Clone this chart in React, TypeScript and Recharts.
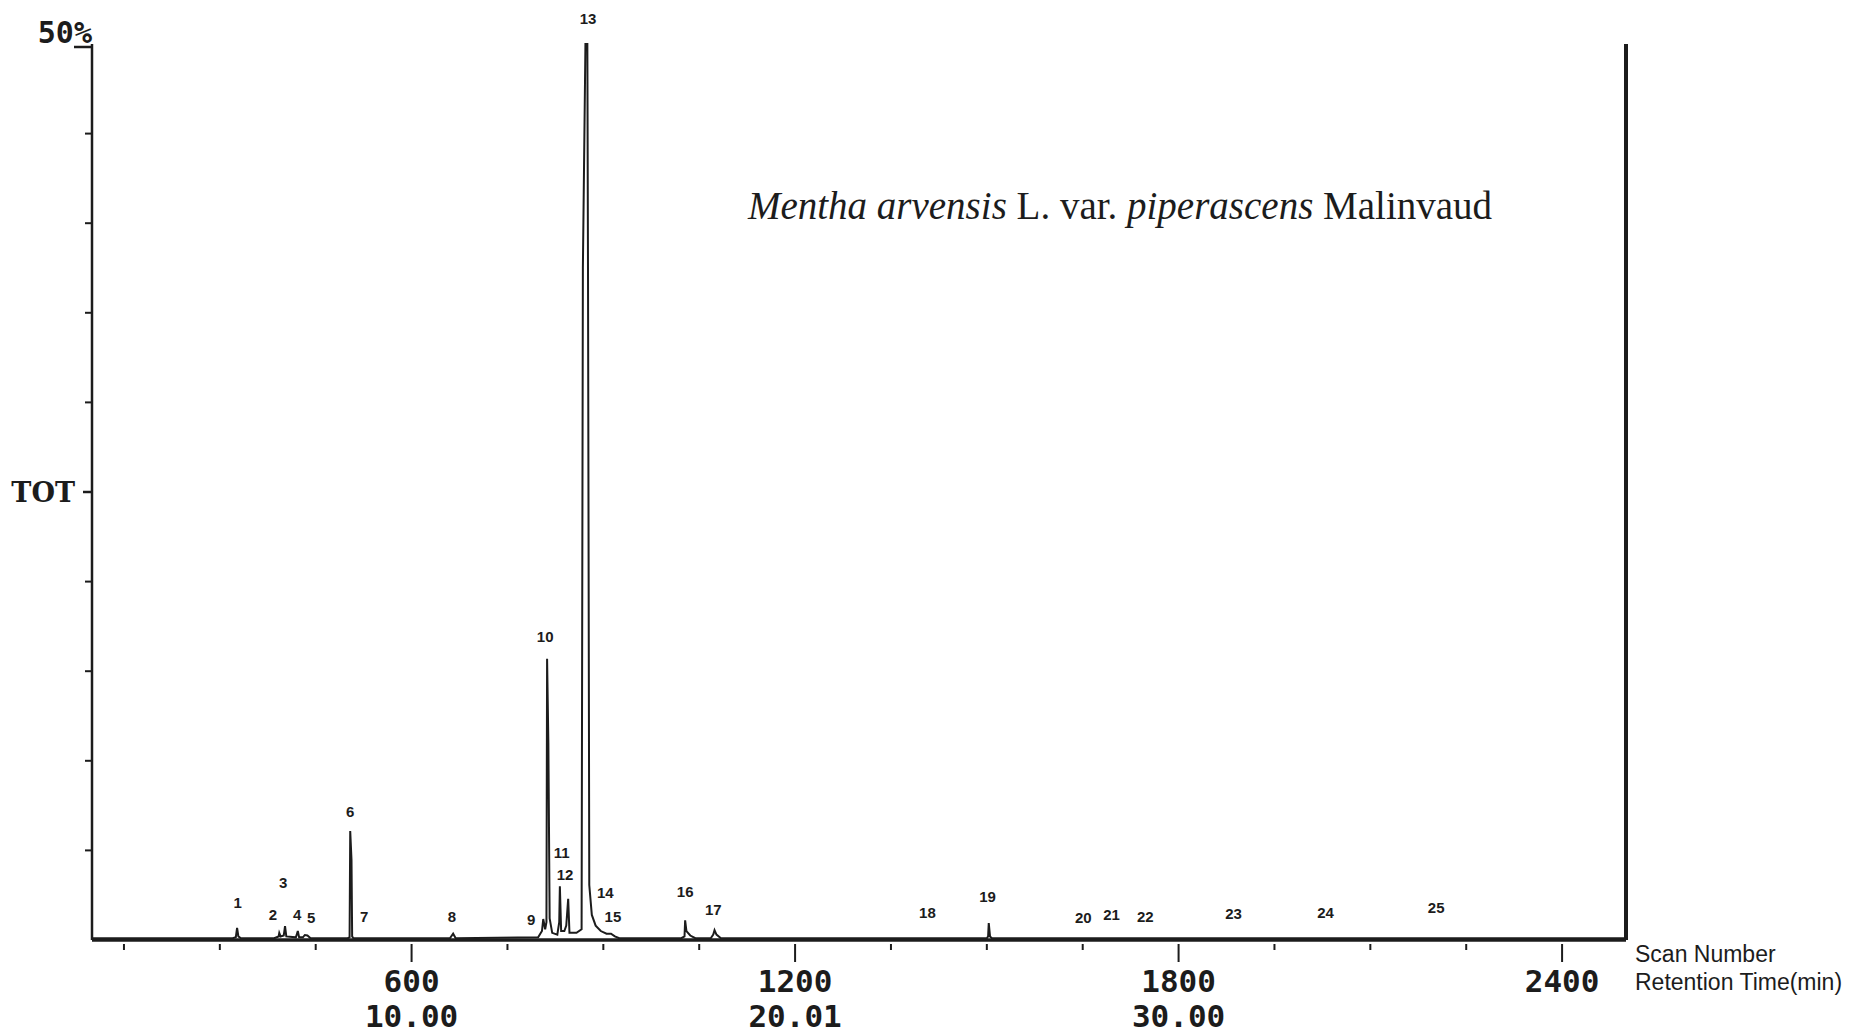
import React from 'react';
import {ComposedChart, Line, XAxis, YAxis, ReferenceDot} from 'recharts';

// total ion chromatogram (scan number vs % of full scale)
const traceScans = [
  100, 320, 325, 327, 329, 333, 385, 392, 393, 395, 400, 402, 404, 419, 422, 424,
  430, 433, 437, 442, 500, 503, 504, 506, 507, 509, 660, 665, 669, 798, 804, 806,
  809, 811, 812, 814, 816, 820, 828, 831, 832, 834, 839, 842, 845, 847, 858, 866,
  868, 872, 875, 876, 878, 882, 888, 896, 905, 912, 918, 925, 1022, 1027, 1028, 1030,
  1036, 1044, 1068, 1072, 1074, 1077, 1084, 1500, 1502, 1503, 1505, 1508, 2500,
];
const traceTic = [
  0.1, 0.1, 0.15, 0.67, 0.2, 0.1, 0.1, 0.2, 0.39, 0.2, 0.25, 0.78, 0.2, 0.15, 0.5, 0.15,
  0.15, 0.28, 0.25, 0.1, 0.1, 0.15, 6.08, 4.46, 0.2, 0.1, 0.1, 0.35, 0.1, 0.15, 0.5, 1.17,
  0.6, 1.0, 15.7, 11.0, 1.2, 0.4, 0.3, 1.0, 3.0, 0.5, 0.5, 0.8, 2.3, 0.4, 0.4, 0.6,
  37.5, 50, 50, 37.5, 3.07, 1.4, 0.8, 0.5, 0.35, 0.35, 0.2, 0.1, 0.1, 0.2, 1.1, 0.5,
  0.25, 0.1, 0.1, 0.3, 0.55, 0.3, 0.1, 0.1, 0.2, 0.95, 0.2, 0.1, 0.1,
];

// peak numbers and where they are printed
const peakIds = [
  '1', '2', '3', '4', '5', '6', '7', '8', '9', '10', '11', '12', '13',
  '14', '15', '16', '17', '18', '19', '20', '21', '22', '23', '24', '25',
];
const peakLabelScans = [
  328, 383, 399, 421, 443, 504, 526, 663, 787, 809, 835, 840, 876,
  903, 915, 1028, 1072, 1407, 1501, 1651, 1695, 1748, 1886, 2030, 2203,
];
const peakLabelHeights = [
  2.06, 1.4, 3.18, 1.4, 1.23, 7.14, 1.28, 1.28, 1.12, 16.9, 4.85, 3.63, 51.4,
  2.62, 1.28, 2.68, 1.67, 1.51, 2.4, 1.23, 1.4, 1.28, 1.45, 1.51, 1.79,
];

const scanTicks = [150, 300, 450, 600, 750, 900, 1050, 1200, 1350, 1500, 1650, 1800, 1950, 2100, 2250, 2400];
const majorScans = [600, 1200, 1800, 2400];
const retentionTimes = ['10.00', '20.01', '30.00', ''];
const ticTicks = [0, 5, 10, 15, 20, 25, 30, 35, 40, 45, 50];

const trace = traceScans.map((s, i) => ({scan: s, tic: traceTic[i]}));

const W = 1834;
const H = 1026;
const PLOT_LEFT = 84;
const PLOT_RIGHT = 1618;
const BASE_Y = 932;
const INK = '#1c1c1c';
const monoFont = '"DejaVu Sans Mono", monospace';

const ScanTick = (props: any) => {
  const {x, payload} = props;
  const v = payload.value;
  const idx = majorScans.indexOf(v);
  if (idx < 0) {
    return <line x1={x} x2={x} y1={BASE_Y + 4} y2={BASE_Y + 10} stroke={INK} strokeWidth={2} />;
  }
  return (
    <g>
      <line x1={x} x2={x} y1={BASE_Y + 4} y2={BASE_Y + 22} stroke={INK} strokeWidth={2} />
      <text x={x} y={BASE_Y + 52} textAnchor="middle" fontFamily={monoFont} fontWeight={700} fontSize={31} fill={INK}>
        {v}
      </text>
      <text x={x} y={BASE_Y + 87} textAnchor="middle" fontFamily={monoFont} fontWeight={700} fontSize={31} fill={INK}>
        {retentionTimes[idx]}
      </text>
    </g>
  );
};

const LeftTick = (props: any) => {
  const {y, payload} = props;
  const v = payload.value;
  if (v === 0) return null;
  if (v === 50) {
    return (
      <g>
        <line x1={PLOT_LEFT - 18} x2={PLOT_LEFT} y1={y + 3} y2={y + 3} stroke={INK} strokeWidth={2.5} />
        <text x={PLOT_LEFT} y={y - 1} textAnchor="end" fontFamily={monoFont} fontWeight={700} fontSize={30} fill={INK}>
          50%
        </text>
      </g>
    );
  }
  if (v === 25) {
    return (
      <g>
        <line x1={PLOT_LEFT - 9} x2={PLOT_LEFT} y1={y} y2={y} stroke={INK} strokeWidth={2.5} />
        <text x={PLOT_LEFT - 17} y={y + 10} textAnchor="end" fontFamily='"DejaVu Serif", serif' fontWeight={700} fontSize={27} fill={INK}>
          TOT
        </text>
      </g>
    );
  }
  return <line x1={PLOT_LEFT - 7} x2={PLOT_LEFT - 1} y1={y} y2={y} stroke={INK} strokeWidth={2} />;
};

const RightTick = (props: any) => {
  const {y, payload} = props;
  const v = payload.value;
  if (v === 0) return null;
  const len = v === 50 || v === 25 ? 20 : 10;
  return <line x1={PLOT_RIGHT} x2={PLOT_RIGHT + len} y1={y} y2={y} stroke={INK} strokeWidth={2} />;
};

export default function App() {
  return (
    <div style={{position: 'fixed', left: 8, top: 8, width: W, height: H, background: '#fff'}}>
      <ComposedChart width={W} height={H} margin={{top: 36, right: 206, left: 4, bottom: 0}}>
        <XAxis
          xAxisId="scan"
          dataKey="scan"
          type="number"
          domain={[100, 2500]}
          ticks={scanTicks}
          interval={0}
          tick={<ScanTick />}
          tickLine={false}
          axisLine={{stroke: INK, strokeWidth: 3.5}}
          height={94}
        />
        <YAxis
          yAxisId="left"
          type="number"
          domain={[0, 50]}
          ticks={ticTicks}
          interval={0}
          tick={<LeftTick />}
          tickLine={false}
          axisLine={{stroke: INK, strokeWidth: 2.5}}
          width={80}
        />
        <YAxis
          yAxisId="right"
          orientation="right"
          type="number"
          domain={[0, 50]}
          ticks={ticTicks}
          interval={0}
          tick={<RightTick />}
          tickLine={false}
          axisLine={{stroke: INK, strokeWidth: 4}}
          width={10}
        />
        <Line
          xAxisId="scan"
          yAxisId="left"
          data={trace}
          dataKey="tic"
          type="linear"
          stroke={INK}
          strokeWidth={2}
          dot={false}
          isAnimationActive={false}
        />
        {peakIds.map((id, i) => (
          <ReferenceDot
            key={id}
            xAxisId="scan"
            yAxisId="left"
            x={peakLabelScans[i]}
            y={peakLabelHeights[i]}
            r={1}
            fill="none"
            stroke="none"
            ifOverflow="visible"
            label={{
              value: id,
              position: 'center',
              fill: INK,
              fontSize: 15,
              fontWeight: 700,
              fontFamily: '"Liberation Sans", Arial, sans-serif',
            }}
          />
        ))}
      </ComposedChart>
      <svg width={W} height={H} style={{position: 'absolute', left: 0, top: 0, pointerEvents: 'none'}}>
        <text x={1112} y={211} textAnchor="middle" fontFamily='"Liberation Serif", "Times New Roman", serif' fontSize={39} fill={INK}>
          <tspan fontStyle="italic">Mentha arvensis</tspan>
          <tspan> L. var. </tspan>
          <tspan fontStyle="italic">piperascens</tspan>
          <tspan> Malinvaud</tspan>
        </text>
        <text x={1627} y={954} fontFamily='"Liberation Sans", Arial, sans-serif' fontSize={23} fill={INK}>
          Scan Number
        </text>
        <text x={1627} y={982} fontFamily='"Liberation Sans", Arial, sans-serif' fontSize={23} fill={INK}>
          Retention Time(min)
        </text>
      </svg>
    </div>
  );
}
